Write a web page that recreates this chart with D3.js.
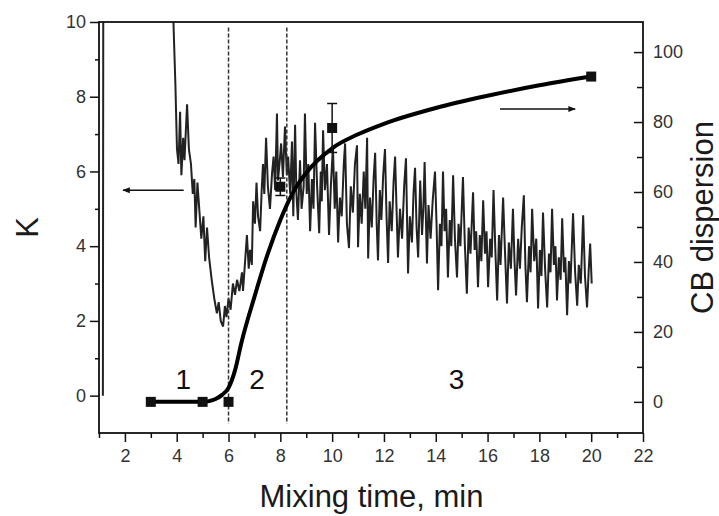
<!DOCTYPE html>
<html>
<head>
<meta charset="utf-8">
<script src="https://cdn.jsdelivr.net/npm/d3@7"></script>
<style>
  body { margin: 0; background: #fff; }
  svg { font-family: "Liberation Sans", Arial, sans-serif; }
</style>
</head>
<body>
<svg id="chart" width="719" height="516"></svg>
<script>
// Mixing curve data

// K (left axis), raw oscillating trace: [time, K]
const kTrace = [
  [1.15, 0], [1.17, 14], [3.8, 14], [3.86, 10.3], [3.95, 8.3], [4.01, 6.6], [4.07, 6.2], [4.13, 7.6],
  [4.18, 5.9], [4.25, 6.9], [4.3, 6.3], [4.4, 7.8], [4.47, 6.6], [4.55, 6.2], [4.62, 5.4], [4.68, 5.8],
  [4.73, 4.5], [4.8, 5.7], [4.88, 4.9], [4.95, 4.2], [5.03, 4.8], [5.1, 3.6], [5.17, 4.5], [5.25, 3.7],
  [5.35, 3.1], [5.45, 2.6], [5.55, 2.2], [5.62, 2.5], [5.7, 2.0], [5.79, 1.85], [5.86, 2.4], [5.92, 2.1],
  [6.0, 2.6], [6.08, 2.3], [6.17, 3.0], [6.25, 2.7], [6.33, 3.1], [6.42, 2.8], [6.52, 3.3], [6.56, 2.8],
  [6.64, 3.6], [6.71, 4.3], [6.78, 3.4], [6.83, 3.9], [6.9, 3.5], [6.95, 5.2], [7.02, 4.6], [7.08, 5.7],
  [7.14, 4.8], [7.22, 4.4], [7.28, 5.5], [7.33, 6.2], [7.38, 5.4], [7.45, 6.9], [7.52, 5.6], [7.6, 5.0],
  [7.68, 5.95], [7.74, 6.4], [7.8, 5.5], [7.87, 7.55], [7.91, 5.76], [7.98, 6.3], [8.03, 6.75], [8.1, 5.85],
  [8.18, 7.2], [8.25, 5.9], [8.3, 6.4], [8.38, 5.4], [8.45, 6.8], [8.5, 4.8], [8.57, 7.25], [8.62, 5.4],
  [8.68, 4.7], [8.76, 6.3], [8.82, 5.0], [8.9, 5.6], [8.95, 7.55], [9.02, 5.4], [9.08, 6.2], [9.15, 4.4],
  [9.22, 5.8], [9.28, 5.0], [9.34, 7.3], [9.42, 5.6], [9.5, 4.35], [9.56, 6.0], [9.6, 5.2], [9.65, 7.1],
  [9.72, 5.5], [9.8, 6.2], [9.88, 4.3], [9.95, 5.6], [10.03, 6.65], [10.1, 5.0], [10.16, 6.0], [10.23, 4.1],
  [10.3, 5.3], [10.37, 4.8], [10.45, 6.2], [10.5, 6.75], [10.57, 4.6], [10.65, 3.95], [10.72, 5.6], [10.8, 4.9],
  [10.88, 6.2], [10.96, 6.7], [11.0, 3.97], [11.07, 5.4], [11.14, 4.6], [11.22, 6.0], [11.28, 5.0], [11.35, 6.9],
  [11.39, 3.67], [11.46, 5.3], [11.53, 4.5], [11.6, 5.8], [11.66, 6.5], [11.72, 4.6], [11.77, 3.62], [11.84, 5.5],
  [11.9, 4.7], [11.97, 5.9], [12.04, 6.6], [12.1, 4.8], [12.16, 3.55], [12.22, 5.2], [12.3, 4.4], [12.37, 5.7],
  [12.43, 6.4], [12.49, 4.9], [12.54, 3.7], [12.62, 5.0], [12.7, 4.2], [12.78, 5.6], [12.85, 6.35], [12.93, 3.27],
  [13.0, 4.8], [13.08, 4.1], [13.14, 5.4], [13.2, 6.1], [13.26, 4.5], [13.32, 3.7], [13.4, 5.76], [13.47, 4.3],
  [13.52, 5.0], [13.57, 6.25], [13.66, 3.54], [13.72, 5.1], [13.8, 4.2], [13.88, 5.2], [13.97, 6.0], [14.03, 4.6],
  [14.09, 2.82], [14.16, 4.6], [14.22, 4.0], [14.28, 6.0], [14.34, 4.4], [14.4, 5.0], [14.47, 3.16], [14.54, 4.7],
  [14.6, 4.0], [14.67, 5.9], [14.74, 4.2], [14.82, 3.16], [14.88, 4.6], [14.95, 4.0], [15.05, 5.85], [15.12, 4.1],
  [15.2, 2.73], [15.27, 4.5], [15.34, 3.8], [15.44, 5.44], [15.5, 3.9], [15.56, 4.4], [15.63, 2.9], [15.7, 4.3],
  [15.76, 3.6], [15.83, 5.23], [15.9, 3.8], [15.96, 4.4], [16.02, 2.9], [16.1, 4.2], [16.16, 3.7], [16.23, 5.5],
  [16.3, 3.9], [16.37, 2.55], [16.44, 4.3], [16.5, 3.5], [16.6, 5.3], [16.67, 3.9], [16.75, 2.47], [16.82, 4.1],
  [16.9, 3.4], [16.98, 5.0], [17.04, 3.6], [17.1, 2.68], [17.18, 4.2], [17.25, 3.4], [17.32, 4.5], [17.4, 5.36],
  [17.46, 3.5], [17.52, 2.5], [17.6, 4.0], [17.66, 3.3], [17.72, 5.0], [17.8, 3.6], [17.88, 4.2], [17.95, 2.33],
  [18.02, 3.9], [18.08, 3.2], [18.14, 4.9], [18.22, 3.4], [18.3, 2.36], [18.37, 3.8], [18.43, 3.3], [18.49, 5.0],
  [18.56, 3.5], [18.62, 4.0], [18.68, 2.55], [18.75, 3.7], [18.82, 3.1], [18.88, 4.75], [18.95, 3.3], [19.0, 3.7],
  [19.07, 2.15], [19.14, 3.6], [19.2, 3.0], [19.3, 4.88], [19.38, 3.3], [19.46, 2.41], [19.52, 3.5], [19.6, 3.0],
  [19.69, 4.83], [19.76, 3.2], [19.84, 2.36], [19.9, 3.3], [19.96, 4.07], [20.02, 3.0]
];

// CB dispersion (right axis), fitted curve
const fitTime = [3, 5, 5.25, 5.5, 5.75, 6, 6.25, 6.5, 7, 7.5, 8, 8.5, 9, 10, 11, 12, 14, 16, 18, 20];
const fitValue = [0, 0, 0.2, 0.8, 2, 4, 9, 17, 30, 42, 52, 60, 65.5, 72.5, 76.5, 79.5, 84, 87.5, 90.5, 93];

// CB dispersion measured points with error bars
const cbTime = [3, 5, 6, 8, 10, 20];
const cbValue = [0, 0, 0, 61.5, 78.3, 93];
const cbError = [0, 0, 0, 2.5, 7, 0];

// Stage boundaries and stage labels
const stageBounds = [6, 8.25];
const stageLabels = ["1", "2", "3"];
const stageLabelTime = [4.25, 7.1, 14.8];

// Axis ticks
const xMajor = [2, 4, 6, 8, 10, 12, 14, 16, 18, 20, 22];
const xMinor = [1, 3, 5, 7, 9, 11, 13, 15, 17, 19, 21];
const kMajor = [0, 2, 4, 6, 8, 10];
const kMinor = [1, 3, 5, 7, 9];
const cbMajor = [0, 20, 40, 60, 80, 100];
const cbMinor = [10, 30, 50, 70, 90];

const plotLeft = 99, plotRight = 643, plotTop = 22, plotBottom = 433;

const x = d3.scaleLinear().domain([1, 22]).range([plotLeft, plotRight]);
const yK = d3.scaleLinear().domain([-1, 10]).range([plotBottom, plotTop]);
const yCB = d3.scaleLinear().domain([-8.9, 108.6]).range([plotBottom, plotTop]);

const svg = d3.select("#chart");
const defs = svg.append("defs");

defs.append("clipPath").attr("id", "plot-clip")
  .append("rect")
  .attr("x", plotLeft).attr("y", plotTop)
  .attr("width", plotRight - plotLeft).attr("height", plotBottom - plotTop);

defs.append("marker")
  .attr("id", "arrow")
  .attr("viewBox", "0 0 10 10")
  .attr("refX", 9).attr("refY", 5)
  .attr("markerWidth", 7).attr("markerHeight", 5)
  .attr("orient", "auto")
  .append("path")
  .attr("d", "M0,1 L10,5 L0,9 Z")
  .attr("fill", "#111");

// Raw K trace
svg.append("path")
  .datum(kTrace)
  .attr("clip-path", "url(#plot-clip)")
  .attr("fill", "none")
  .attr("stroke", "#222")
  .attr("stroke-width", 2)
  .attr("d", d3.line().x(d => x(d[0])).y(d => yK(d[1])));

// Stage boundaries
svg.append("g").selectAll("line")
  .data(stageBounds)
  .join("line")
  .attr("x1", d => x(d)).attr("x2", d => x(d))
  .attr("y1", yK(9.85)).attr("y2", yK(-0.75))
  .attr("stroke", "#333")
  .attr("stroke-width", 1.5)
  .attr("stroke-dasharray", "4,2");

// Fitted CB dispersion curve
svg.append("path")
  .datum(d3.zip(fitTime, fitValue))
  .attr("fill", "none")
  .attr("stroke", "#000")
  .attr("stroke-width", 4)
  .attr("d", d3.line().curve(d3.curveMonotoneX).x(d => x(d[0])).y(d => yCB(d[1])));

// Error bars and squares
const cbPoints = d3.zip(cbTime, cbValue, cbError);
const err = svg.append("g").selectAll("g")
  .data(cbPoints.filter(d => d[2] > 0))
  .join("g")
  .attr("stroke", "#111")
  .attr("stroke-width", 1.5);
err.append("line")
  .attr("x1", d => x(d[0])).attr("x2", d => x(d[0]))
  .attr("y1", d => yCB(d[1] - d[2])).attr("y2", d => yCB(d[1] + d[2]));
err.append("line")
  .attr("x1", d => x(d[0]) - 5).attr("x2", d => x(d[0]) + 5)
  .attr("y1", d => yCB(d[1] + d[2])).attr("y2", d => yCB(d[1] + d[2]));
err.append("line")
  .attr("x1", d => x(d[0]) - 5).attr("x2", d => x(d[0]) + 5)
  .attr("y1", d => yCB(d[1] - d[2])).attr("y2", d => yCB(d[1] - d[2]));

svg.append("g").selectAll("rect")
  .data(cbPoints)
  .join("rect")
  .attr("x", d => x(d[0]) - 5).attr("y", d => yCB(d[1]) - 5)
  .attr("width", 10).attr("height", 10)
  .attr("fill", "#111");

// Arrows pointing at the relevant axis
svg.append("line")
  .attr("x1", x(4.27)).attr("x2", x(1.93))
  .attr("y1", yK(5.5)).attr("y2", yK(5.5))
  .attr("stroke", "#111").attr("stroke-width", 1.5)
  .attr("marker-end", "url(#arrow)");
svg.append("line")
  .attr("x1", x(16.48)).attr("x2", x(19.38))
  .attr("y1", yCB(83.7)).attr("y2", yCB(83.7))
  .attr("stroke", "#111").attr("stroke-width", 1.5)
  .attr("marker-end", "url(#arrow)");

// Stage numbers
svg.append("g").selectAll("text")
  .data(stageLabels)
  .join("text")
  .attr("x", (d, i) => x(stageLabelTime[i]))
  .attr("y", yK(0.18))
  .attr("text-anchor", "middle")
  .attr("font-size", 28)
  .attr("fill", "#111")
  .text(d => d);

// Axes
function styleAxis(g) {
  g.select(".domain").remove();
  g.selectAll(".tick line").attr("stroke", "#111").attr("stroke-width", 1.5);
  g.selectAll(".tick text").attr("font-size", 18).attr("fill", "#333")
    .attr("font-family", "Liberation Sans, Arial, sans-serif");
}

svg.append("g").attr("transform", `translate(0,${plotBottom})`)
  .call(d3.axisBottom(x).tickValues(xMajor).tickSize(9).tickPadding(7).tickFormat(d3.format("d")))
  .call(styleAxis);
svg.append("g").attr("transform", `translate(0,${plotBottom})`)
  .call(d3.axisBottom(x).tickValues(xMinor).tickSize(5).tickFormat(""))
  .call(styleAxis);

svg.append("g").attr("transform", `translate(${plotLeft},0)`)
  .call(d3.axisLeft(yK).tickValues(kMajor).tickSize(9).tickPadding(4))
  .call(styleAxis);
svg.append("g").attr("transform", `translate(${plotLeft},0)`)
  .call(d3.axisLeft(yK).tickValues(kMinor).tickSize(4).tickFormat(""))
  .call(styleAxis);

svg.append("g").attr("transform", `translate(${plotRight},0)`)
  .call(d3.axisRight(yCB).tickValues(cbMajor).tickSize(-9).tickPadding(10))
  .call(styleAxis);
svg.append("g").attr("transform", `translate(${plotRight},0)`)
  .call(d3.axisRight(yCB).tickValues(cbMinor).tickSize(-6).tickFormat(""))
  .call(styleAxis);

// Frame
svg.append("rect")
  .attr("x", plotLeft).attr("y", plotTop)
  .attr("width", plotRight - plotLeft).attr("height", plotBottom - plotTop)
  .attr("fill", "none")
  .attr("stroke", "#111")
  .attr("stroke-width", 1.8);

// Axis titles
svg.append("text")
  .attr("x", (plotLeft + plotRight) / 2 + 0.5)
  .attr("y", 507)
  .attr("text-anchor", "middle")
  .attr("font-size", 31)
  .attr("fill", "#1a1a1a")
  .text("Mixing time, min");

svg.append("text")
  .attr("transform", `translate(38,${(plotTop + plotBottom) / 2}) rotate(-90)`)
  .attr("text-anchor", "middle")
  .attr("font-size", 31)
  .attr("fill", "#1a1a1a")
  .text("K");

svg.append("text")
  .attr("transform", `translate(713,${(plotTop + plotBottom) / 2 - 10}) rotate(-90)`)
  .attr("text-anchor", "middle")
  .attr("font-size", 31)
  .attr("fill", "#1a1a1a")
  .text("CB dispersion");
</script>
</body>
</html>
